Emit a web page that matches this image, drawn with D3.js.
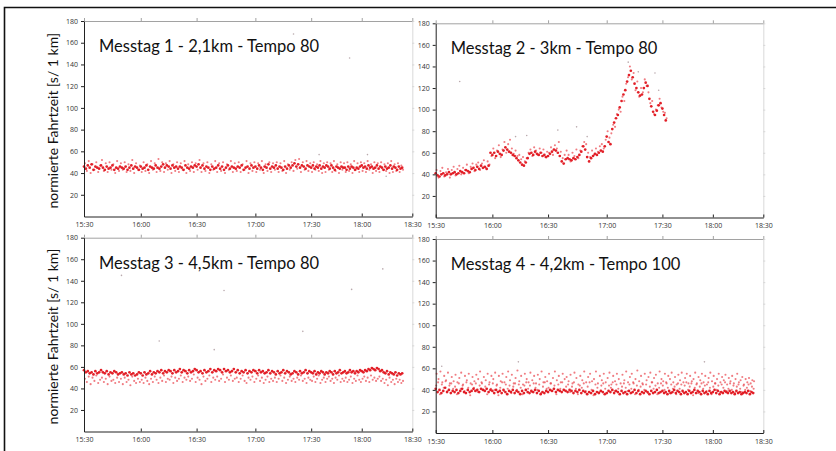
<!DOCTYPE html>
<html>
<head>
<meta charset="utf-8">
<script src="https://cdn.jsdelivr.net/npm/d3@7"></script>
<style>
	body { margin: 0; background: #fff; }
	svg { display: block; }
</style>
</head>
<body>
<div id="chart"></div>
<script>

// ----------------------------------
// DATA (minutes after 15:30, normierte Fahrtzeit in s / 1 km)
// ----------------------------------

const tickMinutes = [0, 30, 60, 90, 120, 150, 180];
const tickLabels = ['15:30', '16:00', '16:30', '17:00', '17:30', '18:00', '18:30'];
const yTicks = [20, 40, 60, 80, 100, 120, 140, 160, 180];

const titles = [
	'Messtag 1 - 2,1km - Tempo 80',
	'Messtag 2 - 3km - Tempo 80',
	'Messtag 3 - 4,5km - Tempo 80',
	'Messtag 4 - 4,2km - Tempo 100'
];
const yLabel = 'normierte Fahrtzeit [s/ 1 km]';

// Messtag 1
const day1Core = [
	46,44,47,45,48,43,46,45,44,47, 45,43,46,44,45,47,43,45,44,46,
	45,44,46,43,45,47,44,46,45,43, 46,44,45,47,43,46,45,44,47,45,
	44,46,48,45,47,46,44,47,45,46, 44,46,45,43,47,45,44,46,45,47,
	46,48,45,47,44,46,45,43,46,44, 45,47,44,46,43,45,47,44,46,45,
	44,46,45,47,43,45,46,44,47,45, 46,44,47,45,43,46,45,48,44,46,
	45,47,44,46,45,43,46,44,47,45, 47,49,46,48,45,47,46,44,47,46,
	45,47,44,46,45,47,44,46,45,47, 46,44,47,45,43,46,45,44,46,45,
	45,43,46,44,46,45,43,45,44,46, 47,45,46,44,47,45,46,44,45,47,
	44,46,45,43,46,44,45,47,44,46, 45,43,46,44,45
];
const day1Spread = [
	49,42,51,40,48,43,50,41,47,52, 42,49,41,50,43,48,40,51,42,49,
	43,50,41,48,42,52,40,49,43,47, 41,50,42,48,40,51,43,49,41,53,
	42,50,41,49,43,51,40,48,42,50, 41,49,43,51,40,48,42,50,41,49,
	43,52,41,49,42,50,40,48,43,51, 41,49,42,50,40,48,43,51,41,49,
	42,50,41,48,43,51,40,49,42,50, 41,49,43,51,40,48,42,50,41,49,
	43,50,41,49,42,51,40,48,43,50, 42,52,44,53,41,50,43,51,42,49,
	41,50,43,48,42,51,40,49,41,50, 43,49,41,51,42,48,40,50,43,49,
	41,50,42,48,40,51,43,49,41,50, 42,49,41,51,43,48,40,50,42,49,
	41,50,43,48,42,49,40,51,41,48, 42,49,41,47,43
];
const day1Outliers = [[110.5, 168], [124.7, 57], [142.8, 146], [153.4, 57], [164.5, 37]];

// Messtag 2
const day2Core = [
	41,39,38,40,41,39,40,42,40,41, 42,40,41,43,42,41,44,43,42,45,
	46,44,47,45,48,46,47,45,48,60, 58,60,57,61,59,58,62,65,63,61,
	60,58,57,55,53,51,49,48,51,55, 59,60,58,61,59,58,60,57,58,56,
	57,59,61,63,62,60,57,52,50,54, 55,54,53,55,54,56,58,61,66,63,
	56,52,55,57,59,58,60,62,61,66, 75,70,68,82,88,92,95,102,108,114,
	118,126,132,136,130,124,120,116,113,114, 120,125,122,110,103,98,95,99,104,106,
	101,95,90
];
const day2Spread = [
	44,37,43,46,38,42,45,37,44,47, 39,45,48,40,46,44,49,41,47,50,
	43,49,51,44,50,53,46,52,49,57, 64,55,62,67,56,63,70,60,68,72,
	64,59,62,57,58,54,56,52,55,60, 63,57,65,62,58,64,60,63,56,61,
	60,65,58,67,64,70,61,55,58,62, 58,52,60,57,63,55,62,66,70,68,
	60,56,62,58,64,61,66,68,64,72, 80,74,78,86,84,96,100,98,112,108,
	124,130,140,128,134,118,126,112,120,116, 128,122,116,106,108,96,100,104,110,102,
	98,97,92
];
const day2Outliers = [[12.7, 126], [42.5, 75], [48.5, 76], [65, 81], [74.6, 84], [80, 75],
	[101.6, 144], [107, 135], [116, 134], [118, 118]];

// Messtag 3
const day3Core = [
	57,55,56,54,55,53,56,54,55,57, 55,54,56,53,55,54,56,55,53,54,
	55,53,54,52,55,53,54,52,53,55, 54,52,55,53,54,56,53,55,54,56,
	55,57,54,56,55,57,56,54,57,55, 56,58,55,57,56,54,57,55,56,58,
	57,55,56,54,57,55,56,58,55,57, 56,58,57,55,58,56,57,55,56,58,
	55,57,54,56,55,57,54,56,55,57, 56,54,57,55,56,54,55,57,54,56,
	55,53,56,54,55,57,54,56,55,53, 54,56,55,53,56,54,55,57,54,56,
	55,54,56,53,55,54,56,55,53,55, 54,56,55,53,56,54,55,57,54,55,
	56,54,55,57,55,56,54,56,55,57, 56,55,57,56,58,57,59,58,57,59,
	58,56,57,55,54,56,53,55,54,53, 55,52,54,53,54
];
const day3Spread = [
	49,46,51,44,50,47,52,45,48,50, 46,49,44,51,47,48,45,50,46,49,
	44,50,46,48,43,51,47,45,49,46, 48,45,50,47,44,49,46,51,48,45,
	50,47,52,46,49,48,51,45,50,47, 49,52,46,50,48,51,47,49,53,46,
	50,48,44,51,47,49,52,46,50,48, 51,47,49,53,46,50,48,52,47,49,
	50,46,49,52,47,45,50,48,51,46, 49,52,47,50,45,48,51,46,49,47,
	50,46,49,52,47,50,45,48,51,47, 49,46,50,48,52,47,49,45,50,48,
	47,51,46,49,52,45,48,50,46,49, 51,47,49,45,50,48,52,46,49,47,
	50,46,48,51,45,49,47,52,48,46, 49,51,47,50,46,52,48,50,47,49,
	51,47,49,45,48,43,50,46,48,44, 49,46,48,45,47
];
const day3Outliers = [[19.8, 145], [39.9, 84], [69, 76], [74, 131], [115.5, 93], [144, 132], [162.5, 151]];

// Messtag 4
const day4Core = [
	41,38,40,37,39,42,38,40,37,39, 38,40,37,39,41,38,37,40,38,39,
	41,39,40,38,41,40,39,41,38,40, 39,37,40,38,39,37,40,38,36,39,
	38,40,37,39,38,36,39,37,40,38, 37,39,38,40,37,39,36,38,37,39,
	38,40,39,41,38,40,39,38,40,39, 38,40,39,37,39,38,40,37,39,38,
	36,38,37,39,36,38,37,39,38,36, 37,39,38,40,37,39,38,36,39,37,
	38,36,39,37,38,40,37,39,36,38, 37,39,38,36,39,37,38,40,37,38,
	39,37,38,36,39,37,38,40,37,39, 38,36,39,37,38,36,39,37,38,40,
	37,39,38,36,39,37,38,36,39,37, 38,40,37,39,36,38,37,39,38,37,
	39,37,38,36,39,37,38,36,37,38, 37,39,36,38,37
];
const day4Upper = [
	55,50,57,47,53,49,56,46,52,48, 54,47,51,56,45,53,49,55,46,52,
	48,54,50,57,46,52,49,55,47,53, 50,56,45,53,48,55,47,52,57,49,
	54,46,51,58,48,53,45,55,50,47, 56,49,53,46,54,50,57,47,52,48,
	55,46,51,57,49,53,47,55,50,52, 48,54,46,56,51,45,53,49,57,47,
	52,55,48,50,57,46,53,49,55,47, 51,56,45,53,48,55,50,46,54,49,
	57,47,52,55,46,50,58,48,53,45, 55,49,52,56,47,51,54,46,57,50,
	48,55,46,53,50,56,47,52,45,54, 49,56,47,51,55,46,53,48,50,56,
	46,52,49,55,47,53,45,51,56,48, 53,46,50,55,47,52,49,54,45,51,
	48,53,46,50,55,47,49,52,45,50, 47,51,46,49,48
];
const day4Lower = [
	44,47,36,45,42,48,39,44,46,41, 43,36,46,41,44,39,47,42,35,45,
	42,46,38,44,47,40,43,36,45,41, 46,40,44,35,42,47,39,45,41,44,
	37,43,46,40,45,42,36,44,47,41, 44,38,46,42,40,45,37,43,47,41,
	42,46,39,44,36,45,41,47,40,43, 45,38,43,47,41,36,44,42,46,39,
	43,47,40,35,45,42,38,44,46,41, 37,44,42,47,39,45,41,36,43,46,
	42,39,45,41,47,36,44,40,43,46, 40,45,37,43,47,41,44,36,42,46,
	44,40,47,42,37,45,41,43,36,46, 41,45,38,44,47,40,43,46,35,42,
	45,37,43,46,41,44,39,47,42,36, 43,46,40,44,38,45,42,47,39,41,
	46,40,44,37,43,45,41,38,44,40, 42,45,39,43,41
];
const day4Outliers = [[3.2, 62], [44, 66], [145, 66]];


// ----------------------------------
// LAYOUT
// ----------------------------------

const width = 836,
	height = 451,
	tickFractions = [0, 0.173, 0.343, 0.522, 0.692, 0.846, 1];

const panels = [
	{ title: titles[0], left: 84, right: 412.3, top: 21, bottom: 216.5, yLabel: true,
		series: [{ values: day1Spread, offset: 0.5, kind: 'spread' }, { values: day1Core, offset: 0, kind: 'core' }],
		outliers: day1Outliers },
	{ title: titles[1], left: 435.7, right: 763.3, top: 23.3, bottom: 217.5, yLabel: false,
		series: [{ values: day2Spread, offset: 0.5, kind: 'spread' }, { values: day2Core, offset: 0, kind: 'core' }],
		outliers: day2Outliers },
	{ title: titles[2], left: 84, right: 412.3, top: 237.7, bottom: 431.5, yLabel: true,
		series: [{ values: day3Spread, offset: 0.5, kind: 'spread' }, { values: day3Core, offset: 0, kind: 'core' }],
		outliers: day3Outliers },
	{ title: titles[3], left: 435.7, right: 763.3, top: 239, bottom: 433, yLabel: false,
		series: [{ values: day4Upper, offset: 0.5, kind: 'spread' }, { values: day4Lower, offset: 0.25, kind: 'spread' },
			{ values: day4Core, offset: 0, kind: 'core' }],
		outliers: day4Outliers }
];

const svg = d3.select('#chart')
	.append('svg')
	.attr('width', width)
	.attr('height', height);

svg.append('rect')
	.attr('width', width)
	.attr('height', height)
	.attr('fill', '#fff');

// outer frame (top and left edges)
svg.append('path')
	.attr('d', `M4.5,${height} L4.5,7.5 L${width},7.5`)
	.attr('fill', 'none')
	.attr('stroke', '#111')
	.attr('stroke-width', 1.6);


// ----------------------------------
// DRAW EACH PANEL
// ----------------------------------

panels.forEach(p => {

	const x = d3.scaleLinear()
		.domain(tickMinutes)
		.range(tickFractions.map(f => p.left + f * (p.right - p.left)));

	const y = d3.scaleLinear()
		.domain([0, 180])
		.range([p.bottom, p.top]);

	const g = svg.append('g');

	// light frame: top and right
	const topAxis = g.append('g')
		.attr('transform', `translate(0, ${y(180)})`)
		.call(d3.axisTop(x).tickValues(tickMinutes).tickFormat('').tickSizeInner(3).tickSizeOuter(0));
	topAxis.selectAll('path, line').attr('stroke', '#8a8a8a').attr('stroke-width', 0.8);

	const rightAxis = g.append('g')
		.attr('transform', `translate(${x(180)}, 0)`)
		.call(d3.axisRight(y).tickValues(yTicks).tickFormat('').tickSizeInner(2).tickSizeOuter(0));
	rightAxis.selectAll('path, line').attr('stroke', '#cfcfcf').attr('stroke-width', 0.8);

	// points
	const pts = g.append('g');
	p.series.forEach(s => {
		pts.selectAll(null)
			.data(s.values)
			.join('circle')
			.attr('cx', (d, i) => x(i + s.offset))
			.attr('cy', d => y(d))
			.attr('r', s.kind === 'core' ? 1.35 : 1.05)
			.attr('fill', s.kind === 'core' ? '#e0141c' : '#e9454d')
			.attr('fill-opacity', s.kind === 'core' ? 0.95 : 0.7);
	});
	pts.selectAll(null)
		.data(p.outliers)
		.join('circle')
		.attr('cx', d => x(d[0]))
		.attr('cy', d => y(d[1]))
		.attr('r', 0.8)
		.attr('fill', '#b9a9ad');

	// left and bottom axes
	const leftAxis = g.append('g')
		.attr('transform', `translate(${x(0)}, 0)`)
		.call(d3.axisLeft(y).tickValues(yTicks).tickSizeInner(3).tickSizeOuter(0).tickPadding(3));

	const bottomAxis = g.append('g')
		.attr('transform', `translate(0, ${y(0)})`)
		.call(d3.axisBottom(x).tickValues(tickMinutes).tickFormat((d, i) => tickLabels[i])
			.tickSizeInner(-3).tickSizeOuter(0).tickPadding(6));

	[leftAxis, bottomAxis].forEach(a => {
		a.selectAll('path, line').attr('stroke', '#222').attr('stroke-width', 1);
		a.selectAll('text')
			.attr('fill', '#333')
			.style('font-family', '"Open Sans", sans-serif')
			.style('font-size', '7px');
	});

	// panel title
	g.append('text')
		.attr('x', p.left + 15)
		.attr('y', p.top + 31)
		.text(p.title)
		.attr('fill', '#111')
		.style('font-family', 'Lato, sans-serif')
		.style('font-size', '16.5px');

	if (p.yLabel) {
		const cy = (p.top + p.bottom) / 2 + 2;
		g.append('text')
			.text(yLabel)
			.attr('x', 58)
			.attr('y', cy)
			.attr('transform', `rotate(-90, 58, ${cy})`)
			.attr('text-anchor', 'middle')
			.attr('fill', '#111')
			.style('font-family', 'Lato, sans-serif')
			.style('font-size', '14px');
	}
});

</script>
</body>
</html>
